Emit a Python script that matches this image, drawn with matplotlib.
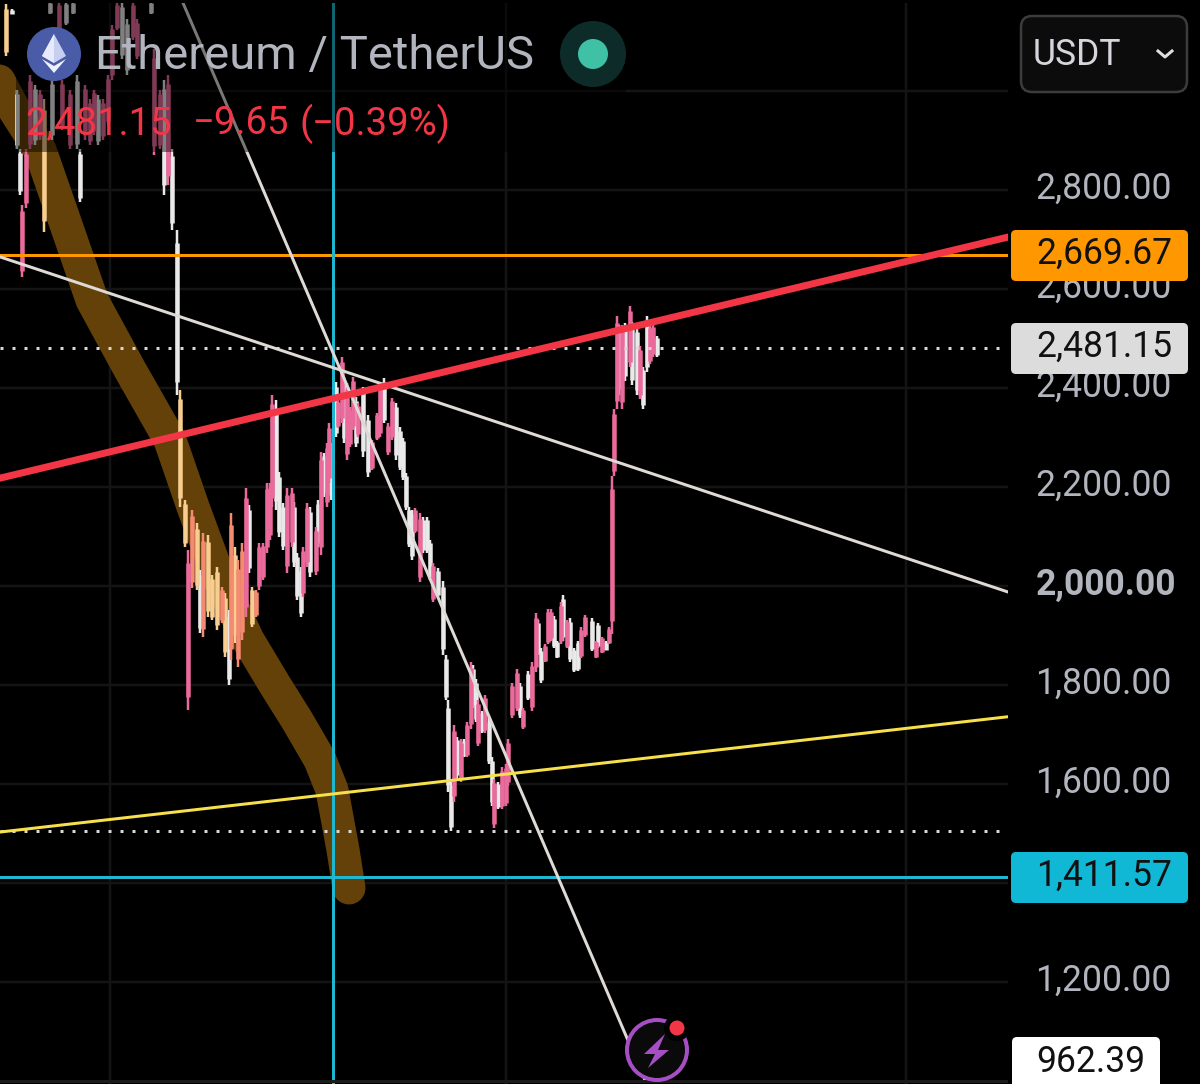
# ETH/USDT phone screenshot with hand drawn trend lines

import numpy as np
import matplotlib
matplotlib.use("Agg")
import matplotlib.pyplot as plt
from matplotlib.patches import Circle, FancyBboxPatch, Polygon, Rectangle
from matplotlib.ticker import FuncFormatter
from matplotlib.transforms import ScaledTranslation

plt.rcParams["font.family"] = ["Roboto", "DejaVu Sans"]

# ------ Data ------

bar_t = [
    6, 12, 17, 20, 22, 26, 30, 35, 40, 44,
    50, 52, 59, 62, 66, 70, 73, 77, 80, 85,
    90, 94, 98, 103, 108, 112, 117, 122, 127, 133,
    137, 151, 154, 160, 164, 168, 172, 177, 180, 185,
    188, 192, 197, 200, 203, 208, 212, 217, 222, 225,
    229, 231, 235, 238, 242, 246, 249, 252, 256, 259,
    263, 267, 270, 272, 276, 279, 283, 287, 292, 294,
    297, 301, 303, 307, 310, 316, 318, 321, 324, 327,
    329, 331, 336, 338, 342, 344, 347, 350, 353, 356,
    358, 363, 368, 372, 377, 380, 384, 388, 392, 396,
    400, 403, 406, 409, 412, 415, 420, 423, 427, 430,
    433, 438, 443, 446, 448, 451, 454, 457, 461, 464,
    467, 471, 473, 476, 478, 482, 485, 489, 492, 494,
    498, 502, 506, 508, 512, 517, 520, 523, 528, 532,
    536, 538, 541, 545, 548, 551, 554, 557, 561, 563,
    567, 570, 574, 578, 581, 585, 592, 596, 598, 602,
    606, 609, 612, 614, 617, 619, 622, 625, 630, 632,
    637, 640, 643, 647, 650, 653, 657,
]
bar_high = [
    3175, 3165, 3003, 2882, 2770, 2882, 3033, 3013, 3003, 2983,
    3179, 3023, 3179, 3023, 3179, 3003, 3179, 3033, 2882, 3013,
    2983, 3003, 2993, 2983, 3033, 3134, 3179, 3179, 3145, 3179,
    3145, 3179, 3084, 3003, 3023, 3033, 2882, 2720, 2396, 2174,
    2073, 2154, 2127, 2032, 2107, 2103, 2022, 2038, 1998, 1986,
    1951, 2147, 2079, 2052, 2087, 2198, 2164, 1998, 1992, 2087,
    2087, 2208, 2208, 2386, 2376, 2230, 2168, 2198, 2198, 2170,
    2067, 2038, 2079, 2168, 2160, 2119, 2174, 2271, 2269, 2289,
    2329, 2289, 2412, 2376, 2463, 2423, 2410, 2362, 2423, 2382,
    2370, 2402, 2346, 2295, 2350, 2412, 2420, 2329, 2380, 2370,
    2321, 2299, 2228, 2160, 2154, 2158, 2147, 2139, 2139, 2093,
    2046, 2036, 2010, 1860, 1769, 1605, 1719, 1696, 1690, 1690,
    1725, 1846, 1840, 1812, 1769, 1747, 1779, 1733, 1654, 1611,
    1605, 1634, 1640, 1690, 1804, 1832, 1804, 1753, 1828, 1846,
    1945, 1931, 1874, 1882, 1953, 1953, 1939, 1889, 1967, 1982,
    1931, 1935, 1874, 1889, 1917, 1941, 1935, 1889, 1925, 1897,
    1889, 1917, 2222, 2358, 2546, 2528, 2528, 2532, 2566, 2534,
    2524, 2485, 2443, 2546, 2528, 2528, 2505,
]
bar_low = [
    3070, 3155, 2882, 2791, 2625, 2764, 2882, 2892, 2902, 2716,
    3155, 2902, 3104, 2922, 3134, 2882, 3155, 2882, 2776, 2902,
    2892, 2912, 2892, 2902, 2932, 3023, 3124, 3064, 3033, 3104,
    3064, 3155, 2871, 2882, 2791, 2811, 2720, 2386, 2160, 2079,
    1749, 1996, 1992, 1905, 1897, 1937, 1931, 1911, 1925, 1856,
    1800, 1850, 1885, 1836, 1891, 1937, 2026, 1917, 1937, 1992,
    2012, 2067, 2093, 2160, 2154, 2099, 2073, 2026, 2079, 2038,
    1972, 1937, 1978, 2038, 2018, 2022, 2079, 2063, 2180, 2160,
    2208, 2174, 2301, 2319, 2329, 2289, 2255, 2281, 2315, 2281,
    2301, 2261, 2220, 2234, 2295, 2301, 2329, 2265, 2295, 2255,
    2234, 2214, 2154, 2079, 2052, 2107, 2008, 2067, 2067, 2012,
    1967, 1978, 1860, 1769, 1583, 1506, 1563, 1611, 1605, 1654,
    1654, 1711, 1753, 1725, 1676, 1704, 1704, 1640, 1555, 1512,
    1549, 1549, 1555, 1597, 1733, 1747, 1733, 1711, 1769, 1747,
    1826, 1860, 1804, 1846, 1882, 1889, 1874, 1854, 1882, 1889,
    1874, 1846, 1826, 1828, 1854, 1897, 1868, 1854, 1874, 1864,
    1870, 1882, 1903, 2222, 2358, 2386, 2358, 2414, 2443, 2406,
    2386, 2378, 2358, 2433, 2449, 2463, 2463,
]
# w white, p pink, o orange tint, y pale orange (the last two sit on the brown stroke)
bar_kind = (
    "ywwwpppwpy" "wwppwpwwwp" "ppwppppwwp" "pwppwpwwyy"
    "poywoyyyoy" "woyoopwyop" "ppppwwwppw" "wwppwpwpwp"
    "pwwppwpppw" "pwwpppwppw" "wwwwwppwww" "pwwwwwpwpw"
    "ppwwpwpwwp" "wpppppwpwp" "pwwpppwwpw" "pwwwppwpwp"
    "wppppwpwpw" "wpwwppw"
)

y_ticks = [1200, 1400, 1600, 1800, 2000, 2200, 2400, 2600, 2800, 3000]
grid_t = [110, 506, 906]

orange_level = 2669.67
last_price = 2481.15
cyan_level = 1411.57
low_level = 1505
cursor_t = 333

red_t, red_p = [0, 1008], [2218, 2705]
white_a_t, white_a_p = [0, 1008], [2665, 1988]
white_b_t, white_b_p = [183, 645], [3178, 1002]
yellow_t, yellow_p = [0, 1008], [1503, 1736]

stroke_t = [-30, 15, 40, 66, 92, 130, 170, 193, 220, 248, 275, 297, 320, 332, 343, 349]
stroke_p = [3130, 2960, 2881, 2730, 2578, 2437, 2295, 2160, 2012, 1891, 1800, 1729, 1649, 1588, 1467, 1390]

# ------ Figure ------

PX = 0.72  # points per pixel at dpi 100
CANDLE = {"w": "#e9e9e9", "p": "#ea6a9c", "o": "#f58a72", "y": "#f7cd90"}

fig = plt.figure(figsize=(12, 10.84), dpi=100, facecolor="black")
ax = fig.add_axes([0, 0, 1008 / 1200, 1], facecolor="black")
ax.set_xlim(0, 1008)
ax.set_ylim(994, 3184)

for side in ax.spines:
    ax.spines[side].set_visible(False)
ax.set_xticks([])
ax.yaxis.tick_right()
ax.set_yticks(y_ticks[:-1])
# the 1,400.00 label sits completely under the cyan price box
ax.yaxis.set_major_formatter(FuncFormatter(lambda v, pos: "" if v == 1400 else f"{v:,.2f}"))
ax.tick_params(axis="y", length=0, pad=27.5 * PX, labelsize=25.6, labelcolor="#b2b5be")
fig.canvas.draw()
for lbl in ax.get_yticklabels():
    lbl.set_transform(lbl.get_transform() + ScaledTranslation(0, 5 / 100, fig.dpi_scale_trans))
    if lbl.get_text() == "2,000.00":
        lbl.set_fontweight("bold")

ax.hlines(y_ticks, 0, 1008, color="#141414", lw=2.5 * PX, zorder=1)
ax.vlines(grid_t, 994, 3184, color="#141414", lw=2.5 * PX, zorder=1)

ax.plot(stroke_t, stroke_p, color="#634109", lw=33 * PX, solid_capstyle="round",
        solid_joinstyle="round", zorder=2)

t = np.array(bar_t)
high = np.array(bar_high, dtype=float)
low = np.array(bar_low, dtype=float)
kind = np.array(list(bar_kind))
span = high - low
# white bars first so the pink ones stay visible where they touch
for group in ["w", "y", "o", "p"]:
    m = kind == group
    ax.vlines(t[m], low[m], high[m], color=CANDLE[group], lw=2.5 * PX, capstyle="butt", zorder=3)
    ax.vlines(t[m], low[m] + 0.08 * span[m], high[m] - 0.08 * span[m], color=CANDLE[group],
              lw=4.5 * PX, capstyle="butt", zorder=3)

ax.hlines([last_price, low_level], 0, 1008, color="#d8d8d8", lw=3 * PX,
          linestyles=[(0, (1, 3))], zorder=4)
ax.axhline(orange_level, color="#ff9800", lw=3 * PX, zorder=5)
ax.axhline(cyan_level, color="#1fb6cf", lw=3 * PX, zorder=5)
ax.axvline(cursor_t, color="#1fb6cf", lw=3 * PX, zorder=5)
ax.plot(white_a_t, white_a_p, color="#dedad6", lw=3 * PX, zorder=5)
ax.plot(white_b_t, white_b_p, color="#dedad6", lw=3 * PX, zorder=5)
ax.plot(yellow_t, yellow_p, color="#f7e04a", lw=3 * PX, zorder=5)
ax.plot(red_t, red_p, color="#f23645", lw=7 * PX, zorder=6)

# ------ Overlay in screen pixels (legend, price labels, icons) ------

ov = fig.add_axes([0, 0, 1, 1], facecolor="none", zorder=5)
ov.set_xlim(0, 1200)
ov.set_ylim(1084, 0)
ov.axis("off")

ov.add_patch(Rectangle((16, 0), 610, 152, color="black", alpha=0.45, lw=0, zorder=1))
ov.add_patch(Rectangle((0, 0), 1200, 3, color="black", lw=0, zorder=1))
ov.add_patch(Rectangle((0, 1080), 1008, 2.5, color="#1c1c1c", lw=0, zorder=1))


def price_box(x0, x1, y0, y1, face, label, text_color="#111111"):
    ov.add_patch(FancyBboxPatch((x0, y0), x1 - x0, y1 - y0, boxstyle="round,pad=0,rounding_size=5",
                                fc=face, ec="none", zorder=2))
    ov.text(1036, (y0 + y1) / 2 - 2, label, color=text_color, fontsize=25.6, va="center", ha="left", zorder=3)


price_box(1011, 1188, 230, 281, "#ff9800", f"{orange_level:,.2f}")
price_box(1011, 1188, 323, 374, "#dcdcdc", f"{last_price:,.2f}")
price_box(1011, 1188, 852, 903, "#10b8d6", f"{cyan_level:,.2f}")
ov.add_patch(FancyBboxPatch((1012, 1037), 148, 60, boxstyle="round,pad=0,rounding_size=5",
                            fc="white", ec="none", zorder=2, clip_on=True))
ov.text(1036, 1062, "962.39", color="#111111", fontsize=25.6, va="center", ha="left", zorder=3)

# currency selector
ov.add_patch(FancyBboxPatch((1021, 16), 166, 76, boxstyle="round,pad=0,rounding_size=11",
                            fc="#0c0c0c", ec="#3c3c3c", lw=2.5 * PX, zorder=2))
ov.text(1033, 55, "USDT", color="#d4d6dc", fontsize=25.6, va="center", ha="left", zorder=3)
ov.plot([1158, 1165, 1172], [51, 57, 51], color="#e0e0e0", lw=3 * PX, zorder=3)

# header
ov.text(95, 56, "Ethereum / TetherUS", color="#b2b5be", fontsize=34, va="center", ha="left", zorder=3)
ov.text(25, 124, "2,481.15", color="#f23645", fontsize=27.5, va="center", ha="left", zorder=3)
ov.text(193, 124, "\u22129.65", color="#f23645", fontsize=27.5, va="center", ha="left", zorder=3)
ov.text(300, 124, "(\u22120.39%)", color="#f23645", fontsize=27.5, va="center", ha="left", zorder=3)

# ethereum logo
ov.add_patch(Circle((54, 54), 27, fc="#4a5ca8", ec="none", zorder=3))
ov.add_patch(Polygon([(54, 34), (42, 56), (54, 63), (66, 56)], fc="#c6cff0", ec="none", zorder=4))
ov.add_patch(Polygon([(54, 34), (54, 63), (42, 56)], fc="#e6eafa", ec="none", zorder=4))
ov.add_patch(Polygon([(42, 59), (54, 73), (66, 59), (54, 66)], fc="#eef0fb", ec="none", zorder=4))

# market status dot
ov.add_patch(Circle((593, 54), 33, fc="#0c2b29", ec="none", zorder=3))
ov.add_patch(Circle((593, 54), 15, fc="#3fc1a5", ec="none", zorder=4))

# lightning badge
ov.add_patch(Circle((657, 1050), 30, fc="#0a0a0a", ec="#a64fc4", lw=4 * PX, zorder=3))
ov.add_patch(Polygon([(665, 1034), (644, 1054), (655, 1054), (648, 1068), (669, 1050), (658, 1050)],
                     fc="#a64fc4", ec="none", zorder=4))
ov.add_patch(Circle((677, 1028), 13, fc="black", ec="none", zorder=4))
ov.add_patch(Circle((677, 1028), 7.5, fc="#f23645", ec="none", zorder=5))

fig.savefig("out.png", dpi=100, facecolor="black")
